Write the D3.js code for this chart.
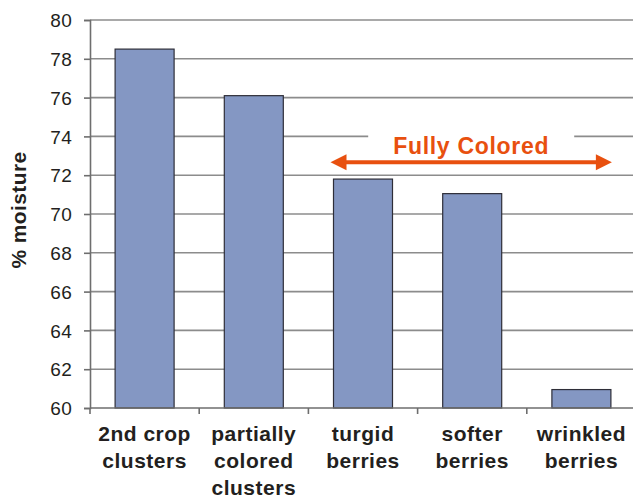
<!DOCTYPE html>
<html><head><meta charset="utf-8">
<script src="https://cdn.jsdelivr.net/npm/d3@7"></script>
<style>body{margin:0;background:#fff}svg{display:block}text{font-family:"Liberation Sans",Arial,sans-serif;fill:#231f20}</style>
</head><body><svg id="c" width="633" height="500"></svg>
<script>
const categories = [["2nd crop","clusters"],["partially","colored","clusters"],["turgid","berries"],["softer","berries"],["wrinkled","berries"]];
const values = [78.5, 76.1, 71.8, 71.05, 60.95];
const yTicks = [60,62,64,66,68,70,72,74,76,78,80];
const annotation = {text:"Fully Colored", from:2, to:4};

const svg = d3.select("#c");
const m = {l:90, t:20, b:408, r:636};
const x0 = d3.scaleBand().domain(d3.range(categories.length)).range([m.l, m.r]);
const bw = 59;
const bx = i => x0(i) + (x0.bandwidth()-bw)/2;
const y = d3.scaleLinear().domain([60,80]).range([m.b, m.t]);

// gridlines
svg.append("g").selectAll("line").data(yTicks.slice(1)).join("line")
  .attr("x1", m.l).attr("x2", 633).attr("y1", d=>y(d)).attr("y2", d=>y(d))
  .attr("stroke","#8c8c8c").attr("stroke-width",1.6);

// y axis
const ya = svg.append("g").attr("transform",`translate(${m.l},0)`)
  .call(d3.axisLeft(y).tickValues(yTicks).tickSize(6).tickPadding(12).tickFormat(d3.format("d")));
ya.select(".domain").attr("stroke","#6e6e6e").attr("stroke-width",1.6);
ya.selectAll(".tick line").attr("stroke","#6e6e6e").attr("stroke-width",1.6);
ya.selectAll("text").style("font-size","19px").style("letter-spacing","0.3px").attr("fill","#231f20").attr("dy","0.35em");

// bars
svg.append("g").selectAll("rect").data(values).join("rect")
  .attr("x",(d,i)=>bx(i)).attr("width",bw)
  .attr("y",d=>y(d)).attr("height",d=>y(60)-y(d))
  .attr("fill","#8497c3").attr("stroke","#2e2e38").attr("stroke-width",1.2);

// x axis
svg.append("line").attr("x1",m.l).attr("x2",633).attr("y1",m.b).attr("y2",m.b).attr("stroke","#6e6e6e").attr("stroke-width",1.6);
svg.append("g").selectAll("line").data(d3.range(categories.length)).join("line")
  .attr("x1",i=>x0(i)).attr("x2",i=>x0(i)).attr("y1",m.b).attr("y2",m.b+6)
  .attr("stroke","#6e6e6e").attr("stroke-width",1.6);

// category labels
const cl = svg.append("g").selectAll("text").data(categories).join("text")
  .attr("text-anchor","middle").attr("x",(d,i)=>bx(i)+bw/2)
  .style("font-size","21px").style("font-weight","bold").style("letter-spacing","0.5px");
cl.selectAll("tspan").data(d=>d).join("tspan")
  .attr("x",function(){return this.parentNode.getAttribute("x");})
  .attr("y",(d,j)=>m.b+33+j*27).text(d=>d);

// y title
svg.append("text").attr("transform",`translate(26,${(m.t+m.b)/2-4}) rotate(-90)`)
  .attr("text-anchor","middle").style("font-size","21px").style("font-weight","bold").style("letter-spacing","0.4px").text("% moisture");

// annotation
const orange = "#e8500f";
const ax1 = bx(annotation.from)-3, ax2 = bx(annotation.to)+bw+1;
const ay = y(72)-13;
const tx = (ax1+ax2)/2;
const tw = 206;
svg.append("rect").attr("x",tx-tw/2).attr("y",y(74)-4).attr("width",tw).attr("height",8).attr("fill","#fff");
svg.append("text").attr("x",tx).attr("y",ay-8).attr("text-anchor","middle")
  .style("font-size","23px").style("font-weight","bold").style("letter-spacing","0.7px").style("fill",orange).text(annotation.text);
svg.append("line").attr("x1",ax1+12).attr("x2",ax2-12).attr("y1",ay).attr("y2",ay).attr("stroke",orange).attr("stroke-width",4);
svg.append("path").attr("d",`M${ax1},${ay}L${ax1+16},${ay-8}L${ax1+16},${ay+8}Z`).attr("fill",orange);
svg.append("path").attr("d",`M${ax2},${ay}L${ax2-16},${ay-8}L${ax2-16},${ay+8}Z`).attr("fill",orange);
</script></body></html>
